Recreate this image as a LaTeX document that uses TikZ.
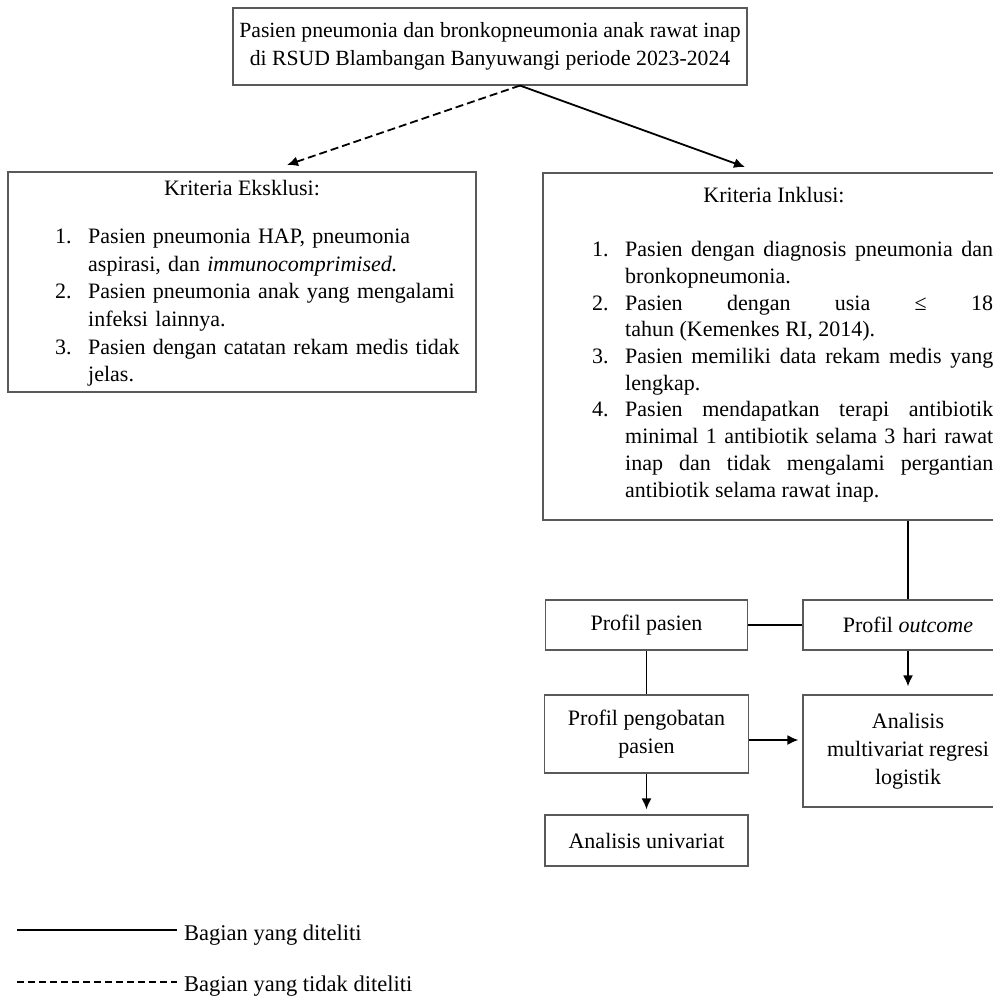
\documentclass[tikz,border=0pt]{standalone}
\usepackage{fontspec}
\setmainfont{Liberation Serif}
\usetikzlibrary{arrows.meta}
\newcommand\topfont{\fontsize{21.7}{28}\selectfont}
\newcommand\bodyfont{\fontsize{22}{28}\selectfont}
\newcommand\inclfont{\fontsize{22}{26.7}\selectfont}
\newcommand\exclfont{\fontsize{22}{27.6}\selectfont}
\newcommand\legfont{\fontsize{22.5}{26}\selectfont}
\newcommand\lstitem[2]{\par\noindent\hangindent=33pt\hangafter=1\makebox[33pt][l]{#1}#2\par}
\begin{document}
\begin{tikzpicture}[x=1pt,y=-1pt,
  box/.style={draw=black!65, line width=1.1pt, inner sep=0pt, align=center, font=\bodyfont},
  txt/.style={inner sep=0pt, font=\bodyfont},
  conn/.style={line width=1.8pt},
  arr/.style={conn, -{Latex[length=11pt,width=10pt]}}]
\path[use as bounding box] (0,0) rectangle (993,999);
\clip (0,0) rectangle (993,999);

% top box
\node[box, font=\topfont, minimum width=514pt, minimum height=77pt] (top) at (490,46.5)
  {Pasien pneumonia dan bronkopneumonia anak rawat inap\\di RSUD Blambangan Banyuwangi periode 2023-2024};
\coordinate (split) at ([xshift=30pt]top.south);
\coordinate (exclTip) at (287,165);
\coordinate (inclTip) at (745,167);

% exclusion box
\node[box, minimum width=468pt, minimum height=220pt] (excl) at (242,282) {};
\node[txt, anchor=base] (exclT) at (242,195) {Kriteria Eksklusi:};
\node[txt, anchor=base west, text width=410pt, align=left, font=\exclfont] (exclL) at (55,216) {%
  \lstitem{1.}{Pasien pneumonia HAP, pneumonia\newline aspirasi, dan \textit{immunocomprimised.}}%
  \lstitem{2.}{Pasien pneumonia anak yang mengalami\newline infeksi lainnya.}%
  \lstitem{3.}{Pasien dengan catatan rekam medis tidak\newline jelas.}};

% inclusion box
\node[box, minimum width=462pt, minimum height=347pt] (incl) at (774,346.5) {};
\node[txt, anchor=base] (inclT) at (774,202) {Kriteria Inklusi:};
\node[txt, anchor=base west, text width=401pt, align=justify, font=\inclfont] (inclL) at (592,230) {%
  \hyphenpenalty=10000\tolerance=10000%
  \lstitem{1.}{Pasien dengan diagnosis pneumonia dan\linebreak bronkopneumonia.}%
  \lstitem{2.}{Pasien dengan usia ≤ 18\linebreak tahun (Kemenkes RI, 2014).}%
  \lstitem{3.}{Pasien memiliki data rekam medis yang\linebreak lengkap.}%
  \lstitem{4.}{Pasien mendapatkan terapi antibiotik\linebreak minimal 1 antibiotik selama 3 hari rawat\linebreak inap dan tidak mengalami pergantian\linebreak antibiotik selama rawat inap.}};

% lower boxes
\node[box, minimum width=202pt, minimum height=50pt] (pasien) at (646.5,625) {Profil pasien};
\node[box, minimum width=210pt, minimum height=50pt] (outcome) at (908,625) {Profil \textit{outcome}};
\node[box, minimum width=204pt, minimum height=78pt] (obat) at (646.5,734) {Profil pengobatan\\pasien};
\node[box, minimum width=210pt, minimum height=112pt] (multi) at (908,751) {Analisis\\multivariat regresi\\logistik};
\node[box, minimum width=203pt, minimum height=51pt] (uni) at (646.5,840.5) {Analisis univariat};

% connectors
\draw[arr, dash pattern=on 8pt off 4pt] (split) -- (exclTip);
\draw[arr] (split) -- (inclTip);
\draw[conn] (outcome.north |- incl.south) -- (outcome.north);
\draw[conn] (pasien.east) -- (outcome.west);
\draw[conn] (pasien.south) -- (obat.north);
\draw[arr, shorten >=8pt] (outcome.south) -- (multi.north);
\draw[arr, shorten >=4pt] ([yshift=-6pt]obat.east) -- ([yshift=-6pt]obat.east -| multi.west);
\draw[arr, shorten >=5pt] (obat.south) -- (uni.north);

% legend
\coordinate (l1a) at (17,930);
\coordinate (l1b) at (177,930);
\node[anchor=base west, inner sep=0pt, font=\legfont] (leg1) at (184,940) {Bagian yang diteliti};
\draw[conn] (l1a) -- (l1b);
\coordinate (l2a) at (17,982);
\coordinate (l2b) at (177,982);
\node[anchor=base west, inner sep=0pt, font=\legfont] (leg2) at (184,991) {Bagian yang tidak diteliti};
\draw[line width=1.4pt, dash pattern=on 7pt off 4pt] (l2a) -- (l2b);
\end{tikzpicture}
\end{document}
